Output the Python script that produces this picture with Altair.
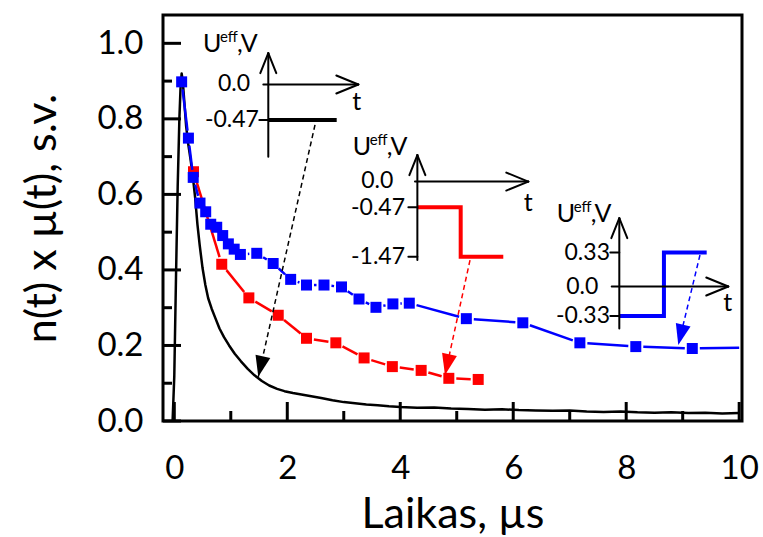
import math
import altair as alt
import pandas as pd

FONT = "Lato"

# ---------------- values ----------------
black_x = [-0.03, 0.0, 0.03, 0.06, 0.09, 0.11, 0.13, 0.15, 0.18, 0.21,
           0.25, 0.29, 0.33, 0.37, 0.41, 0.45, 0.50, 0.55, 0.60, 0.66,
           0.72, 0.80, 0.88, 0.97, 1.07, 1.18, 1.30, 1.42, 1.55, 1.68,
           1.82, 1.95, 2.10, 2.25, 2.40, 2.60, 2.80, 3.00, 3.20, 3.40,
           3.60, 3.80, 4.00, 4.30, 4.60, 4.90, 5.20, 5.50, 5.80, 6.10,
           6.40, 6.70, 7.00, 7.30, 7.60, 7.90, 8.20, 8.50, 8.80, 9.10,
           9.40, 9.70, 10.0]
black_y = [0.0, 0.12, 0.38, 0.62, 0.80, 0.88, 0.92, 0.90, 0.84, 0.78,
           0.73, 0.69, 0.645, 0.59, 0.52, 0.465, 0.405, 0.36, 0.325, 0.298,
           0.275, 0.245, 0.222, 0.200, 0.178, 0.158, 0.138, 0.121, 0.106, 0.094,
           0.085, 0.079, 0.074, 0.070, 0.066, 0.061, 0.055, 0.050, 0.047, 0.044,
           0.042, 0.039, 0.037, 0.035, 0.036, 0.033, 0.032, 0.030, 0.031, 0.029,
           0.028, 0.027, 0.028, 0.025, 0.024, 0.025, 0.023, 0.022, 0.023, 0.021,
           0.022, 0.020, 0.021]

red_x = [0.34, 0.84, 1.32, 1.84, 2.34, 2.86, 3.36, 3.86, 4.37, 4.86, 5.38]
red_y = [0.660, 0.415, 0.326, 0.280, 0.219, 0.207, 0.167, 0.144, 0.134, 0.113, 0.110]

blue_x = [0.13, 0.25, 0.335, 0.455, 0.556, 0.645, 0.751, 0.857, 0.957, 1.06,
          1.17, 1.46, 1.75, 2.06, 2.34, 2.65, 2.96, 3.27, 3.57, 3.87,
          4.16, 5.17, 6.17, 7.18, 8.17, 9.17]
blue_y = [0.898, 0.749, 0.645, 0.577, 0.554, 0.521, 0.513, 0.491, 0.469, 0.455,
          0.441, 0.444, 0.417, 0.375, 0.360, 0.360, 0.355, 0.323, 0.301, 0.310,
          0.312, 0.271, 0.260, 0.207, 0.197, 0.192]
blue_end_x = 10.0          # line continues to the frame without a marker
blue_end_y = 0.194

x_tick_values = [0, 2, 4, 6, 8, 10]
y_tick_values = [0.0, 0.2, 0.4, 0.6, 0.8, 1.0]
x_minor = [1, 3, 5, 7, 9]
y_minor = [0.1, 0.3, 0.5, 0.7, 0.9]
x_title = "Laikas, µs"
y_title = "n(t) x µ(t), s.v."

# dashed arrows (start -> tip), data units
arrow_x0 = [2.491, 5.235, 9.306]
arrow_y0 = [0.784, 0.426, 0.4395]
arrow_x1 = [1.487, 4.792, 8.922]
arrow_y1 = [0.117, 0.122, 0.201]
series_color = ["black", "red", "blue"]

# inset pulse diagrams (data units of the main axes)
inset_axis_x = [1.664, 4.303, 7.878]
inset_axis_y0 = [0.700, 0.426, 0.245]
inset_axis_y1 = [0.974, 0.704, 0.537]
inset_zero_y = [0.891, 0.634, 0.356]
inset_t_x0 = [1.576, 4.261, 7.743]
inset_t_x1 = [3.258, 6.267, 9.807]

level_inset = [0, 1, 1, 2, 2]
level_y = [0.797, 0.566, 0.435, 0.446, 0.278]

lvl_text = ["0.0", "-0.47", "0.0", "-0.47", "-1.47", "0.33", "0.0", "-0.33"]
lvl_x = [1.340, 1.499, 3.877, 4.084, 4.084, 7.713, 7.506, 7.713]
lvl_y = [0.891, 0.797, 0.636, 0.564, 0.435, 0.446, 0.356, 0.278]

wave_id = [0, 0, 1, 1, 1, 1, 2, 2, 2, 2]
wave_x = [1.664, 2.875, 4.303, 5.070, 5.070, 5.824, 7.878, 8.668, 8.668, 9.425]
wave_y = [0.797, 0.797, 0.566, 0.566, 0.435, 0.435, 0.278, 0.278, 0.446, 0.446]

t_x = [3.229, 6.267, 9.796]
t_y = [0.845, 0.576, 0.312]
u_x = [0.508, 3.158, 6.769]
u_y = [0.977, 0.704, 0.528]

# ---------------- layout ----------------
W, H = 579, 406
X_DOMAIN = [-0.2, 10.05]
Y_DOMAIN = [0.0, 1.075]
SX = W / (X_DOMAIN[1] - X_DOMAIN[0])
SY = H / (Y_DOMAIN[1] - Y_DOMAIN[0])

xs = alt.Scale(domain=X_DOMAIN, nice=False, zero=False)
ys = alt.Scale(domain=Y_DOMAIN, nice=False, zero=False)


def gapped_segments(xv, yv, marks, gap):
    rows = []
    for i in range(len(xv) - 1):
        dxp = (xv[i + 1] - xv[i]) * SX
        dyp = (yv[i + 1] - yv[i]) * SY
        L = math.hypot(dxp, dyp)
        g0 = gap if marks[i] else 0.0
        g1 = gap if marks[i + 1] else 0.0
        if L <= g0 + g1 + 0.8:
            continue
        ux, uy = dxp / L, dyp / L
        rows.append({"x": xv[i] + ux * g0 / SX, "y": yv[i] + uy * g0 / SY,
                     "x2": xv[i + 1] - ux * g1 / SX, "y2": yv[i + 1] - uy * g1 / SY})
    return pd.DataFrame(rows)


def enc_xy(**kw):
    return dict(x=alt.X("x:Q", scale=xs), y=alt.Y("y:Q", scale=ys), **kw)


def enc_rule(**kw):
    return dict(x=alt.X("x:Q", scale=xs), y=alt.Y("y:Q", scale=ys),
                x2=alt.X2("x2:Q"), y2=alt.Y2("y2:Q"), **kw)


x_axis = alt.Axis(values=x_tick_values, format="d", labelFont=FONT, labelFontSize=33,
                  labelColor="black", labelPadding=31, ticks=False, tickSize=0,
                  domain=False, grid=False, labelFlush=False, labelOverlap=False,
                  title=x_title, titleFont=FONT, titleFontSize=43, titleFontWeight="normal",
                  titleColor="black", titleX=W / 2, titleY=106, titleAlign="center",
                  titleBaseline="alphabetic")
y_axis = alt.Axis(values=y_tick_values, format=".1f", labelFont=FONT, labelFontSize=33,
                  labelColor="black", labelPadding=20, ticks=False, tickSize=0,
                  domain=False, grid=False, labelFlush=False, labelOverlap=False,
                  title=y_title, titleFont=FONT, titleFontSize=43, titleFontWeight="normal",
                  titleColor="black", titleAngle=270, titleX=-108, titleY=H / 2,
                  titleAlign="center", titleBaseline="alphabetic")

black_df = pd.DataFrame({"x": black_x, "y": black_y})
black_line = alt.Chart(black_df).mark_line(color="black", strokeWidth=2.5, strokeJoin="round").encode(
    x=alt.X("x:Q", scale=xs, axis=x_axis), y=alt.Y("y:Q", scale=ys, axis=y_axis))

GAP = 7.5
red_seg = alt.Chart(gapped_segments(red_x, red_y, [True] * len(red_x), GAP)).mark_rule(
    color="red", strokeWidth=2.5).encode(**enc_rule())
red_pts = alt.Chart(pd.DataFrame({"x": red_x, "y": red_y})).mark_square(
    size=121, color="red", opacity=1).encode(**enc_xy())

bx = blue_x + [blue_end_x]
by = blue_y + [blue_end_y]
blue_seg = alt.Chart(gapped_segments(bx, by, [True] * len(blue_x) + [False], GAP)).mark_rule(
    color="blue", strokeWidth=2.5).encode(**enc_rule())
blue_pts = alt.Chart(pd.DataFrame({"x": blue_x, "y": blue_y})).mark_square(
    size=121, color="blue", opacity=1).encode(**enc_xy())

# dashed arrows
arr_df = pd.DataFrame({"x": arrow_x0, "y": arrow_y0, "x2": arrow_x1, "y2": arrow_y1, "c": series_color})
arr_lines = alt.Chart(arr_df).mark_rule(strokeDash=[5, 3.5], strokeWidth=1.5).encode(
    **enc_rule(color=alt.Color("c:N", scale=None)))
angles = []
for x0, y0, x1, y1 in zip(arrow_x0, arrow_y0, arrow_x1, arrow_y1):
    a = math.degrees(math.atan2(-(x1 - x0) * SX, (y0 - y1) * SY))
    angles.append(a % 360)
head_df = pd.DataFrame({"x": arrow_x1, "y": arrow_y1, "a": angles, "c": series_color})
arr_heads = alt.Chart(head_df).mark_point(
    shape="M0,0L-0.36,-1L0.36,-1Z", filled=True, size=1764, opacity=1, strokeWidth=0).encode(
    **enc_xy(angle=alt.Angle("a:Q", scale=None), color=alt.Color("c:N", scale=None)))

# inset diagrams
wave_df = pd.DataFrame({"x": wave_x, "y": wave_y, "id": wave_id,
                        "o": list(range(len(wave_x))),
                        "c": [series_color[i] for i in wave_id]})
waves = alt.Chart(wave_df).mark_line(strokeWidth=4, strokeJoin="miter", strokeCap="butt").encode(
    **enc_xy(detail="id:N", order="o:Q", color=alt.Color("c:N", scale=None)))

seg_rows = []
for i in range(3):
    ax = inset_axis_x[i]
    seg_rows.append((ax, inset_axis_y0[i], ax, inset_axis_y1[i]))
    tip = inset_axis_y1[i]
    seg_rows.append((ax, tip, ax - 8 / SX, tip - 20 / SY))
    seg_rows.append((ax, tip, ax + 8 / SX, tip - 20 / SY))
    zy = inset_zero_y[i]
    seg_rows.append((inset_t_x0[i], zy, inset_t_x1[i], zy))
    tx = inset_t_x1[i]
    seg_rows.append((tx, zy, tx - 22 / SX, zy + 9 / SY))
    seg_rows.append((tx, zy, tx - 22 / SX, zy - 9 / SY))
for k, ly in zip(level_inset, level_y):
    ax = inset_axis_x[k]
    seg_rows.append((ax - 9 / SX, ly, ax, ly))
seg_df = pd.DataFrame(seg_rows, columns=["x", "y", "x2", "y2"])
inset_lines = alt.Chart(seg_df).mark_rule(color="black", strokeWidth=2, strokeCap="round").encode(
    **enc_rule())

lvl_df = pd.DataFrame({"x": lvl_x, "y": lvl_y, "t": lvl_text})
lvl_text_layer = alt.Chart(lvl_df).mark_text(
    align="right", baseline="middle", font=FONT, fontSize=23, color="black").encode(
    **enc_xy(text="t:N"))
t_df = pd.DataFrame({"x": t_x, "y": t_y, "t": ["t"] * 3})
t_layer = alt.Chart(t_df).mark_text(
    align="center", baseline="middle", font=FONT, fontSize=25, color="black").encode(
    **enc_xy(text="t:N"))
u_df = pd.DataFrame({"x": u_x, "y": u_y, "t": ["U"] * 3, "s": ["eff"] * 3, "v": [",V"] * 3})
u_layer = alt.Chart(u_df).mark_text(
    align="left", baseline="alphabetic", font=FONT, fontSize=25, color="black").encode(
    **enc_xy(text="t:N"))
eff_layer = alt.Chart(u_df).mark_text(
    align="left", baseline="alphabetic", font=FONT, fontSize=15, color="black", dx=17, dy=-10).encode(
    **enc_xy(text="s:N"))
v_layer = alt.Chart(u_df).mark_text(
    align="left", baseline="alphabetic", font=FONT, fontSize=25, color="black", dx=34).encode(
    **enc_xy(text="v:N"))

# inward axis ticks
ymaj = alt.Chart(pd.DataFrame({"y": y_tick_values})).mark_rule(color="black", strokeWidth=3).encode(
    y=alt.Y("y:Q", scale=ys), x=alt.value(0), x2=alt.value(18))
ymin = alt.Chart(pd.DataFrame({"y": y_minor})).mark_rule(color="black", strokeWidth=3).encode(
    y=alt.Y("y:Q", scale=ys), x=alt.value(0), x2=alt.value(9))
xmaj = alt.Chart(pd.DataFrame({"x": x_tick_values})).mark_rule(color="black", strokeWidth=3).encode(
    x=alt.X("x:Q", scale=xs), y=alt.value(H), y2=alt.value(H - 19))
xmin = alt.Chart(pd.DataFrame({"x": x_minor})).mark_rule(color="black", strokeWidth=3).encode(
    x=alt.X("x:Q", scale=xs), y=alt.value(H), y2=alt.value(H - 10))

chart = alt.layer(
    black_line, red_seg, red_pts, blue_seg, blue_pts,
    arr_lines, arr_heads, waves, inset_lines,
    lvl_text_layer, t_layer, u_layer, eff_layer, v_layer,
    ymaj, ymin, xmaj, xmin,
).properties(
    width=W, height=H,
    autosize=alt.AutoSizeParams(type="none"),
    padding={"left": 163, "top": 15, "right": 21, "bottom": 116},
    background="white",
).configure_view(stroke="black", strokeWidth=3)

chart.save("out.html", embed_options={"renderer": "svg", "actions": False})
